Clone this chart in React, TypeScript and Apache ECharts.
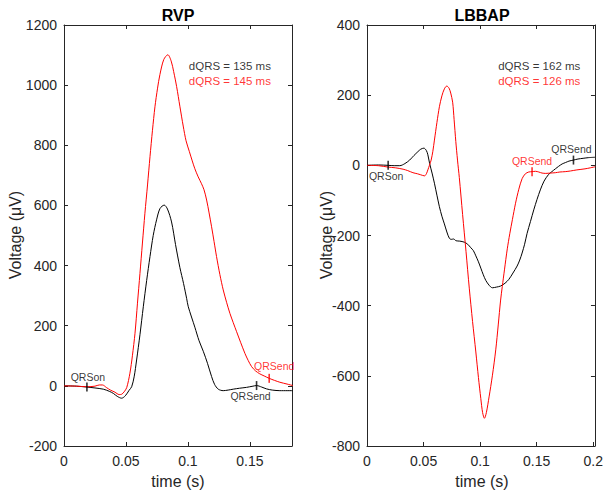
import React, { useEffect, useRef } from "react";
import * as echarts from "echarts";

// ---- Data (time in s, voltage in µV) ----
const rvpBlack: [number, number][] = [
  [0, 0], [0.01, -1], [0.0185, -4], [0.025, -7], [0.0317, -11], [0.0365, -18], [0.0398, -25],
  [0.043, -35], [0.0465, -41], [0.0495, -33], [0.0525, -15], [0.0546, -3], [0.0566, 30],
  [0.0586, 86], [0.0613, 170], [0.064, 263], [0.0667, 350], [0.0694, 430], [0.072, 500],
  [0.0747, 552], [0.0775, 590], [0.0809, 601], [0.0835, 588], [0.0868, 545], [0.09, 470],
  [0.0935, 394], [0.0965, 340], [0.099, 290], [0.1003, 263], [0.1056, 195], [0.109, 150],
  [0.1124, 115], [0.1158, 75], [0.1191, 31], [0.1215, 5], [0.1245, -11], [0.1285, -16],
  [0.1325, -14], [0.1366, -11], [0.1415, -8], [0.1473, -5], [0.1525, -1], [0.1554, 1],
  [0.1595, -4], [0.1634, -10], [0.168, -14], [0.1742, -16], [0.1847, -16],
];

const rvpRed: [number, number][] = [
  [0, 0], [0.01, -1], [0.0185, -3], [0.025, -1], [0.0285, 3], [0.031, 3], [0.0344, -6],
  [0.0375, -14], [0.0411, -21], [0.0445, -29], [0.0465, -28], [0.0485, -20], [0.0506, -6],
  [0.0532, 42], [0.0552, 100], [0.0573, 175], [0.0593, 275], [0.0613, 374], [0.0633, 475],
  [0.0653, 574], [0.0674, 668], [0.0694, 762], [0.0714, 850], [0.0734, 928], [0.0755, 990],
  [0.0774, 1035], [0.0805, 1085], [0.0838, 1101], [0.0865, 1080], [0.0885, 1045], [0.0909, 995],
  [0.0935, 930], [0.0962, 864], [0.0985, 815], [0.1011, 780], [0.1035, 748], [0.1056, 722],
  [0.1083, 695], [0.111, 672], [0.113, 652], [0.1151, 618], [0.1171, 575], [0.1191, 529],
  [0.1211, 480], [0.1231, 430], [0.1258, 370], [0.1285, 319], [0.1312, 278], [0.1339, 241],
  [0.1366, 210], [0.1393, 180], [0.1425, 145], [0.146, 108], [0.1487, 84], [0.1514, 64],
  [0.1545, 50], [0.158, 40], [0.1615, 33], [0.1656, 25], [0.17, 18], [0.1742, 12],
  [0.18, 6], [0.1847, 1],
];

const lbbapBlack: [number, number][] = [
  [0, 0], [0.01, 1], [0.0187, 0], [0.024, -1], [0.029, -1], [0.0335, 5], [0.0377, 15],
  [0.0415, 28], [0.045, 39], [0.0475, 46], [0.0503, 49], [0.0525, 42], [0.0538, 30],
  [0.0553, 6], [0.0575, -22], [0.0596, -51], [0.0618, -85], [0.064, -118], [0.0662, -145],
  [0.0684, -167], [0.0706, -190], [0.0728, -208], [0.0745, -211], [0.0765, -210], [0.0787, -215],
  [0.082, -216], [0.086, -219], [0.089, -225], [0.0918, -235], [0.094, -243], [0.0962, -258],
  [0.0985, -275], [0.1006, -293], [0.1028, -312], [0.105, -328], [0.108, -342], [0.1108, -349],
  [0.1145, -347], [0.1181, -344], [0.122, -336], [0.1254, -325], [0.129, -307], [0.1327, -287],
  [0.135, -270], [0.1371, -250], [0.1393, -225], [0.1415, -194], [0.1445, -160], [0.1474, -127],
  [0.1503, -97], [0.1532, -70], [0.1565, -45], [0.1605, -26], [0.1634, -18], [0.1665, -10],
  [0.1693, -3], [0.1725, 4], [0.1755, 8], [0.1785, 12], [0.1825, 15], [0.1865, 18],
  [0.191, 20], [0.196, 22], [0.2015, 23],
];

const lbbapRed: [number, number][] = [
  [0, 0], [0.01, -1], [0.0187, -5], [0.025, -7], [0.0319, -11], [0.036, -15], [0.0406, -21],
  [0.0445, -24], [0.0475, -27], [0.0509, -30], [0.0525, -24], [0.0538, -13], [0.0552, 0],
  [0.0567, 15], [0.0582, 40], [0.0596, 72], [0.0618, 122], [0.064, 167], [0.0662, 198],
  [0.0684, 218], [0.0705, 226], [0.0725, 220], [0.074, 206], [0.0757, 180], [0.077, 130],
  [0.0785, 68], [0.08, 15], [0.0816, -35], [0.0845, -140], [0.0875, -245], [0.0904, -350],
  [0.0933, -445], [0.0962, -532], [0.0985, -605], [0.1006, -665], [0.1022, -705], [0.1038, -721],
  [0.1055, -705], [0.1079, -660], [0.1108, -600], [0.1138, -526], [0.116, -455], [0.1181, -384],
  [0.1196, -345], [0.1215, -298], [0.124, -238], [0.1262, -195], [0.1285, -155], [0.1313, -108],
  [0.1342, -68], [0.1371, -38], [0.14, -24], [0.143, -19], [0.1459, -18], [0.149, -17],
  [0.1518, -19], [0.1547, -22], [0.158, -23], [0.162, -22], [0.1665, -21], [0.1705, -19],
  [0.1752, -18], [0.18, -16], [0.1855, -13], [0.1927, -10], [0.1975, -7], [0.2018, -4],
];

// markers: [t, v, label, color, dx, dy]
const rvpMarkers: [number, number, string, string, number, number][] = [
  [0.0185, -4, "QRSon", "#000000", 1, -10],
  [0.1554, 1, "QRSend", "#000000", -6, 10],
  [0.1656, 25, "QRSend", "#ff0000", 5, -12],
];
const lbbapMarkers: [number, number, string, string, number, number][] = [
  [0.0187, 0, "QRSon", "#000000", -2, 11],
  [0.1459, -18, "QRSend", "#ff0000", 0, -11],
  [0.1825, 15, "QRSend", "#000000", -2, -11],
];

// annotation texts: [t, v, text, color]
const rvpNotes: [number, number, string, string][] = [
  [0.1003, 1064, "dQRS = 135 ms", "#000000"],
  [0.1003, 1014, "dQRS = 145 ms", "#ff0000"],
];
const lbbapNotes: [number, number, string, string][] = [
  [0.1155, 283, "dQRS = 162 ms", "#000000"],
  [0.1155, 240, "dQRS = 126 ms", "#ff0000"],
];

const titles = ["RVP", "LBBAP"];
const xRanges: [number, number][] = [[0, 0.184], [0, 0.2015]];
const yRanges: [number, number][] = [[-200, 1200], [-800, 400]];

const FONT = "'Liberation Sans', Arial, Helvetica, sans-serif";
const AX = "#262626";

export default function App() {
  const ref = useRef<HTMLDivElement>(null);
  useEffect(() => {
    document.body.style.margin = "0";
    if (!ref.current) return;
    const chart = echarts.init(ref.current, undefined, { renderer: "svg" });

    const grids = [
      { left: 64, top: 25, width: 228, height: 421 },
      { left: 367, top: 25, width: 230, height: 421 },
    ];

    const fmt = (v: number) => {
      const k = v / 0.05;
      if (Math.abs(k - Math.round(k)) > 1e-6) return "";
      return String(+v.toFixed(2));
    };

    const xAxes: any[] = [];
    const yAxes: any[] = [];
    for (let g = 0; g < 2; g++) {
      const base = {
        type: "value",
        gridIndex: g,
        splitLine: { show: false },
        axisLine: { show: true, onZero: false, lineStyle: { color: AX, width: 1 } },
        axisTick: { show: true, inside: true, length: 4, lineStyle: { color: AX } },
      };
      xAxes.push({
        ...base,
        position: "bottom",
        min: xRanges[g][0],
        max: xRanges[g][1],
        interval: 0.05,
        axisLabel: { show: true, color: AX, fontSize: 14, fontFamily: FONT, margin: 8, formatter: fmt, showMaxLabel: false },
      });
      xAxes.push({
        ...base,
        position: "top",
        min: xRanges[g][0],
        max: xRanges[g][1],
        interval: 0.05,
        axisLabel: { show: false },
      });
      yAxes.push({
        ...base,
        position: "left",
        min: yRanges[g][0],
        max: yRanges[g][1],
        interval: 200,
        axisLabel: { show: true, color: AX, fontSize: 14, fontFamily: FONT, margin: 7, formatter: (v: number) => String(v) },
      });
      yAxes.push({
        ...base,
        position: "right",
        min: yRanges[g][0],
        max: yRanges[g][1],
        interval: 200,
        axisLabel: { show: false },
      });
    }

    const lineSeries = (data: [number, number][], color: string, g: number) => ({
      type: "line",
      xAxisIndex: g * 2,
      yAxisIndex: g * 2,
      data,
      showSymbol: false,
      smooth: 0.3,
      lineStyle: { color, width: 1 },
      itemStyle: { color },
      silent: true,
      z: 2,
    });

    const markerSeries = (m: [number, number, string, string, number, number][], g: number) =>
      m.map((r) => ({
        type: "scatter",
        xAxisIndex: g * 2,
        yAxisIndex: g * 2,
        symbol: "rect",
        symbolSize: [1.6, 9],
        itemStyle: { color: r[3] },
        z: 4,
        data: [[r[0], r[1]]],
        label: {
          show: true,
          formatter: r[2],
          position: "inside",
          offset: [r[4], r[5]],
          color: r[3],
          fontSize: 10.5,
          fontFamily: FONT,
        },
      }));

    const noteSeries = (n: [number, number, string, string][], g: number) =>
      n.map((r) => ({
        type: "scatter",
        xAxisIndex: g * 2,
        yAxisIndex: g * 2,
        symbolSize: 1,
        itemStyle: { color: "rgba(0,0,0,0)" },
        data: [[r[0], r[1]]],
        label: {
          show: true,
          formatter: r[2],
          position: "right",
          distance: 0,
          color: r[3],
          fontSize: 11.5,
          fontFamily: FONT,
        },
      }));

    const series: any[] = [
      lineSeries(rvpBlack, "#000000", 0),
      lineSeries(rvpRed, "#ff0000", 0),
      lineSeries(lbbapBlack, "#000000", 1),
      lineSeries(lbbapRed, "#ff0000", 1),
      ...markerSeries(rvpMarkers, 0),
      ...markerSeries(lbbapMarkers, 1),
      ...noteSeries(rvpNotes, 0),
      ...noteSeries(lbbapNotes, 1),
    ];

    const centers = grids.map((g) => g.left + g.width / 2);
    const graphic: any[] = [];
    titles.forEach((t, i) => {
      graphic.push({
        type: "text",
        x: centers[i],
        y: 15,
        style: { text: t, font: `bold 16px ${FONT}`, fill: "#000", align: "center", verticalAlign: "middle" },
      });
      graphic.push({
        type: "text",
        x: centers[i],
        y: 481,
        style: { text: "time (s)", font: `16px ${FONT}`, fill: AX, align: "center", verticalAlign: "middle" },
      });
    });
    [15, 326].forEach((x) => {
      graphic.push({
        type: "text",
        x,
        y: 235,
        rotation: Math.PI / 2,
        style: { text: "Voltage (\u03bcV)", font: `16px ${FONT}`, fill: AX, align: "center", verticalAlign: "middle" },
      });
    });

    chart.setOption({
      animation: false,
      backgroundColor: "#ffffff",
      grid: grids,
      xAxis: xAxes,
      yAxis: yAxes,
      series,
      graphic,
    });
    return () => chart.dispose();
  }, []);
  return <div ref={ref} style={{ width: 606, height: 490 }} />;
}
